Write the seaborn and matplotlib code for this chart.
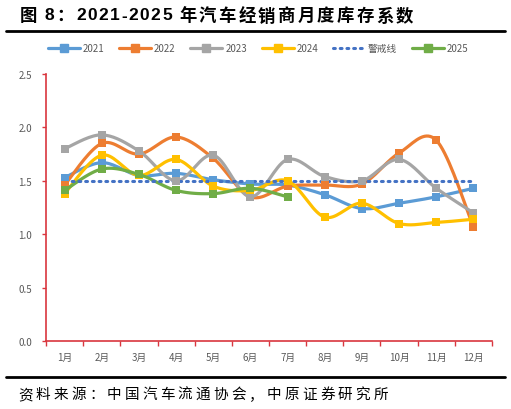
import numpy as np
import pandas as pd
import matplotlib
matplotlib.use("Agg")
import matplotlib.pyplot as plt
from matplotlib.lines import Line2D
import seaborn as sns

months = ["1月", "2月", "3月", "4月", "5月", "6月", "7月", "8月", "9月", "10月", "11月", "12月"]
y2021 = [1.53, 1.67, 1.55, 1.57, 1.51, 1.47, 1.46, 1.37, 1.24, 1.29, 1.35, 1.43]
y2022 = [1.46, 1.85, 1.75, 1.91, 1.71, 1.35, 1.45, 1.46, 1.47, 1.76, 1.88, 1.07]
y2023 = [1.80, 1.93, 1.78, 1.50, 1.74, 1.35, 1.70, 1.54, 1.50, 1.70, 1.43, 1.20]
y2024 = [1.38, 1.74, 1.55, 1.70, 1.45, 1.41, 1.50, 1.16, 1.29, 1.10, 1.11, 1.14]
y2025 = [1.41, 1.61, 1.56, 1.41, 1.38, 1.43, 1.35]
warn = [1.5] * 12

series = [
    ("2021", y2021, "#5B9BD5"),
    ("2022", y2022, "#ED7D31"),
    ("2023", y2023, "#A5A5A5"),
    ("2024", y2024, "#FFC000"),
    ("2025", y2025, "#70AD47"),
]
warn_color = "#4472C4"
axis_red = "#D9363E"
tick_gray = "#595959"

title_txt = "图 8：2021-2025 年汽车经销商月度库存系数"
source_txt = "资料来源：中国汽车流通协会，中原证券研究所"

sns.set_theme(style="white")
plt.rcParams["font.family"] = ["Noto Sans CJK SC", "DejaVu Sans"]


def smooth(xs, ys, n=20):
    # excel-style smoothed line (catmull-rom through the points)
    xs = np.asarray(xs, float)
    ys = np.asarray(ys, float)
    px = np.concatenate([[xs[0]], xs, [xs[-1]]])
    py = np.concatenate([[ys[0]], ys, [ys[-1]]])
    ox, oy = [], []
    t = np.linspace(0, 1, n)
    for i in range(1, len(px) - 2):
        p0x, p1x, p2x, p3x = px[i - 1], px[i], px[i + 1], px[i + 2]
        p0y, p1y, p2y, p3y = py[i - 1], py[i], py[i + 1], py[i + 2]
        c1x, c1y = p1x + (p2x - p0x) / 6, p1y + (p2y - p0y) / 6
        c2x, c2y = p2x - (p3x - p1x) / 6, p2y - (p3y - p1y) / 6
        bx = (1 - t) ** 3 * p1x + 3 * (1 - t) ** 2 * t * c1x + 3 * (1 - t) * t ** 2 * c2x + t ** 3 * p2x
        by = (1 - t) ** 3 * p1y + 3 * (1 - t) ** 2 * t * c1y + 3 * (1 - t) * t ** 2 * c2y + t ** 3 * p2y
        ox.extend(bx)
        oy.extend(by)
    return np.array(ox), np.array(oy)


def spaced_text(fig, s, x0, x1, y, ascii_track=1.5, space_w=5.0, **kw):
    # lay the characters out one by one so the string runs from x0 to x1 (pixels);
    # latin runs get a small fixed tracking, the rest of the slack goes between cjk chars
    r = fig.canvas.get_renderer()
    arts, widths = [], []
    for ch in s:
        t = fig.text(0, 1 - y / 410, ch, va="center", ha="left", **kw)
        w = t.get_window_extent(r).width if ch.strip() else space_w
        arts.append(t)
        widths.append(w)
    tight = [s[i].isascii() and s[i + 1].isascii() and s[i].strip() != "" and s[i + 1].strip() != ""
             for i in range(len(s) - 1)]
    spaces = [ch == " " for ch in s[:-1]]
    n_tight = sum(tight)
    n_gaps = sum(1 for g, sp in zip(tight, spaces) if not g and not sp)
    extra = (x1 - x0 - sum(widths) - n_tight * ascii_track) / max(n_gaps, 1)
    x = x0
    for i, (t, w) in enumerate(zip(arts, widths)):
        t.set_x(x / 511)
        x += w
        if i < len(tight):
            if tight[i]:
                x += ascii_track
            elif not spaces[i]:
                x += extra


fig = plt.figure(figsize=(5.11, 4.10), dpi=100)
ax = fig.add_axes([46 / 511, 1 - 342 / 410, 446 / 511, 267 / 410])

handles = []
for name, vals, color in series:
    x = np.arange(len(vals))
    sx, sy = smooth(x, vals)
    ax.plot(sx, sy, color=color, lw=2.3, solid_capstyle="round", zorder=3)
    df = pd.DataFrame({"x": x, "y": vals})
    sns.scatterplot(data=df, x="x", y="y", ax=ax, marker="s", s=34, color=color,
                    edgecolor=color, linewidth=0, zorder=4, legend=False)
    handles.append(Line2D([], [], color=color, lw=2.3, marker="s", markersize=5.5, label=name))
    if name == "2024":
        wdf = pd.DataFrame({"x": np.arange(12), "y": warn})
        sns.lineplot(data=wdf, x="x", y="y", ax=ax, color=warn_color, lw=2.2,
                     linestyle=(0, (0.6, 1.6)), dash_capstyle="round", zorder=3.5)
        handles.append(Line2D([], [], color=warn_color, lw=2.2, linestyle=(0, (0.6, 1.6)),
                              dash_capstyle="round", label="警戒线"))

ax.set_xlim(-0.5, 11.5)
ax.set_ylim(0, 2.5)
ax.set_xlabel("")
ax.set_ylabel("")
ax.set_xticks(range(12))
ax.set_xticklabels(months)
ax.set_xticks(np.arange(-0.5, 12, 1), minor=True)
ax.set_yticks(np.arange(0, 2.51, 0.5))
ax.set_yticklabels([f"{v:.1f}" for v in np.arange(0, 2.51, 0.5)])
ax.tick_params(axis="x", which="major", length=0, pad=8, labelsize=7, labelcolor=tick_gray)
ax.tick_params(axis="x", which="minor", length=3.5, width=1, color=axis_red, direction="out", bottom=True)
ax.tick_params(axis="y", length=3, width=1, color=axis_red, direction="out", left=True,
               pad=7, labelsize=7, labelcolor=tick_gray)
for s in ["top", "right"]:
    ax.spines[s].set_visible(False)
for s in ["left", "bottom"]:
    ax.spines[s].set_color(axis_red)
    ax.spines[s].set_linewidth(1.2)
ax.grid(False)

fig.legend(handles=handles, loc="center", bbox_to_anchor=(0.505, 1 - 49 / 410), ncol=6,
           frameon=False, fontsize=7, handlelength=3.3, handletextpad=0.3,
           columnspacing=1.5, labelcolor=tick_gray)

spaced_text(fig, title_txt, 20, 413, 16, fontsize=12.5, fontweight="bold", color="black",
            family=["Liberation Sans", "Noto Sans CJK SC"])
fig.add_artist(Line2D([6 / 511, 505 / 511], [1 - 32 / 410] * 2, color="black", lw=2))
fig.add_artist(Line2D([6 / 511, 505 / 511], [1 - 378 / 410] * 2, color="black", lw=2))
spaced_text(fig, source_txt, 18, 388, 395, fontsize=10.5, color="black")

fig.savefig("out.png", dpi=100)
